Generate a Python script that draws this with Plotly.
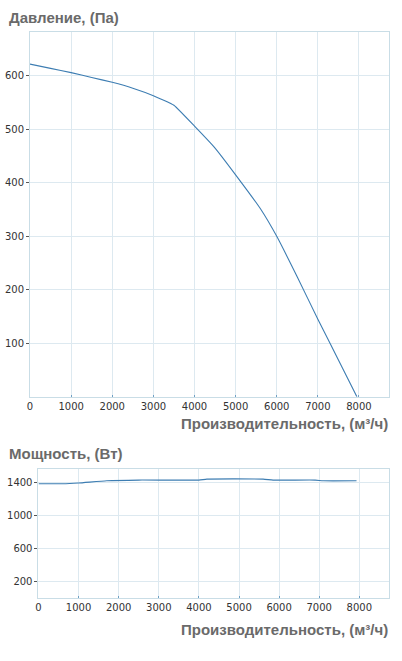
import plotly.graph_objects as go

# --- data ---
flow_pressure = [0, 500, 1000, 1500, 2000, 2500, 3000, 3500, 4000, 4500, 5000, 5600, 6000, 6500, 7000, 7500, 7950]
pressure = [622, 614, 606, 597, 588, 577, 563, 545, 506, 465, 415, 352, 300, 224, 145, 69, 0]

flow_power = [0, 600, 1000, 1700, 2500, 4000, 4200, 5600, 5850, 6900, 7100, 7930]
power = [1384, 1384, 1393, 1420, 1429, 1429, 1441, 1441, 1429, 1429, 1420, 1420]

x_ticks = [0, 1000, 2000, 3000, 4000, 5000, 6000, 7000, 8000]
pressure_ticks = [100, 200, 300, 400, 500, 600]
power_ticks = [200, 600, 1000, 1400]

title_pressure = "Давление, (Па)"
title_power = "Мощность, (Вт)"
title_flow = "Производительность, (м³/ч)"

# --- page geometry (px in the browser window; body margin removed below) ---
W, H = 402, 661
L, T = 30, 32
R = W - 389.5
B = H - 598.3
PW, PH = W - L - R, H - T - B


def px_x(px):
    return (px - L) / PW


def px_y(py):
    return (H - B - py) / PH


LINE = "#3d7db2"
GRID = "#dde9f0"
FRAME = "#c9dde6"
TEXT = "#6a6a6a"

tick_font = dict(family="DejaVu Sans", size=10, color="#333333")

fig = go.Figure()
fig.add_trace(go.Scatter(x=flow_pressure, y=pressure, mode="lines",
                         line=dict(color=LINE, width=1.1, shape="spline", smoothing=0.3),
                         xaxis="x", yaxis="y", hoverinfo="x+y"))
fig.add_trace(go.Scatter(x=flow_power, y=power, mode="lines",
                         line=dict(color=LINE, width=1.1, shape="spline", smoothing=0.4),
                         xaxis="x2", yaxis="y2", hoverinfo="x+y"))

common_x = dict(range=[0, 8730], tickvals=x_ticks, showgrid=True, gridcolor=GRID,
                showline=True, linecolor=FRAME, mirror=True, zeroline=False,
                ticks="inside", ticklen=2, tickcolor="#6e9fc4", tickfont=tick_font,
                automargin=False)
common_y = dict(showgrid=True, gridcolor=GRID, showline=True, linecolor=FRAME,
                mirror=True, zeroline=False, ticks="outside", ticklen=3,
                tickcolor="#555555", tickfont=tick_font, automargin=False)

fig.update_layout(
    width=W, height=H,
    margin=dict(l=L, r=R, t=T, b=B, autoexpand=False),
    paper_bgcolor="white", plot_bgcolor="white",
    showlegend=False,
    xaxis=dict(common_x, domain=[0, 1], anchor="y"),
    yaxis=dict(common_y, domain=[px_y(397), 1], range=[0, 682],
               tickvals=pressure_ticks, anchor="x"),
    xaxis2=dict(common_x, domain=[px_x(38.5), 1], anchor="y2", range=[0, 8740]),
    yaxis2=dict(common_y, domain=[0, px_y(469.5)], range=[0, 1560],
                tickvals=power_ticks, anchor="x2"),
)

title_font = dict(family="Liberation Sans", size=15, color=TEXT)
axis_font = dict(family="Liberation Sans", size=15, color=TEXT)
annots = [
    (f"<b>{title_pressure}</b>", px_x(7), px_y(17), "left", title_font),
    (f"<b>{title_flow}</b>", px_x(391), px_y(424), "right", axis_font),
    (f"<b>{title_power}</b>", px_x(7), px_y(454), "left", title_font),
    (f"<b>{title_flow}</b>", px_x(391), px_y(630), "right", axis_font),
]
for text, ax, ay, anchor, font in annots:
    fig.add_annotation(text=text, x=ax, y=ay, xref="paper", yref="paper",
                       xanchor=anchor, yanchor="middle", showarrow=False, font=font)

fig.write_html("out.html", config={"displayModeBar": False},
               post_script="document.body.style.margin = '0';")
